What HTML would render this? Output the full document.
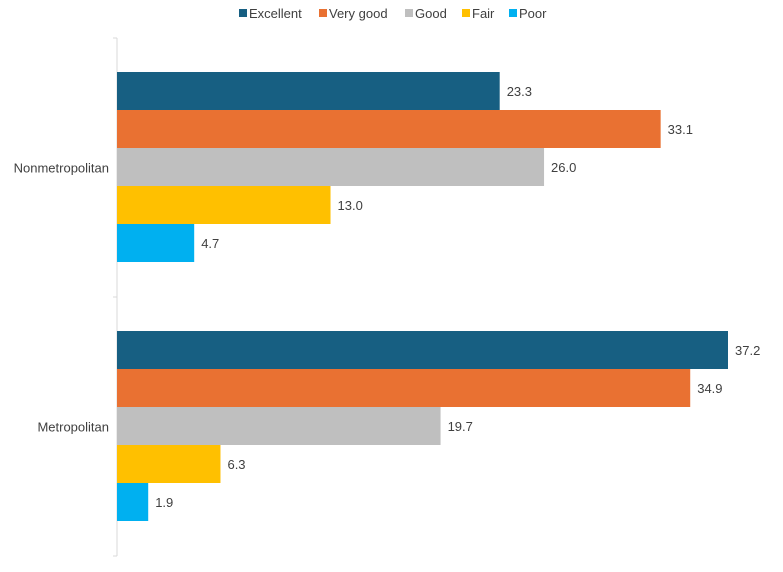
<!DOCTYPE html>
<html><head><meta charset="utf-8"><style>
body{margin:0;background:#fff;font-family:"Liberation Sans",Arial,sans-serif;}
svg text{font-family:"Liberation Sans",Arial,sans-serif;fill:#404040;font-size:13px;}
</style></head><body>
<svg id="chart" width="783" height="567"></svg>
<script>
const categories = ["Nonmetropolitan", "Metropolitan"];
const seriesNames = ["Excellent", "Very good", "Good", "Fair", "Poor"];
const seriesColors = ["#175f82", "#e97132", "#bfbfbf", "#ffc000", "#00b0f0"];
const nonmetroValues = [23.3, 33.1, 26.0, 13.0, 4.7];
const metroValues = [37.2, 34.9, 19.7, 6.3, 1.9];
const values = [nonmetroValues, metroValues];

const svg = document.getElementById('chart');
const NS = 'http://www.w3.org/2000/svg';
const x0 = 117, pxPerUnit = 611 / 37.2;
const chartTop = 38, groupH = 259, barH = 38, groupPad = 34;
const xScale = v => x0 + v * pxPerUnit;
function mk(tag, attrs){const e=document.createElementNS(NS,tag);for(const k in attrs)e.setAttribute(k,attrs[k]);svg.appendChild(e);return e;}

// legend
const legendX = [239, 319, 405, 462, 509];
seriesNames.forEach((n,i)=>{
  const r = mk('rect',{x:legendX[i],y:9,width:8,height:8,fill:seriesColors[i]});
  
  
  const t = mk('text',{x:legendX[i]+10,y:18});
  t.textContent = n;
  
  
});

// axis
const ax = mk('line',{x1:x0,y1:chartTop,x2:x0,y2:chartTop+2*groupH,stroke:'#d9d9d9','stroke-width':1});


for(let k=0;k<=2;k++){
  const tk = mk('line',{x1:x0-4,y1:chartTop+k*groupH,x2:x0,y2:chartTop+k*groupH,stroke:'#d9d9d9'});
  
  
}

categories.forEach((c,g)=>{
  const gy = chartTop + g*groupH;
  const lbl = mk('text',{x:x0-8,y:gy+groupH/2+5,'text-anchor':'end'});
  lbl.textContent = c;
  
  
  values[g].forEach((v,i)=>{
    const y = gy + groupPad + i*barH;
    const b = mk('rect',{x:x0,y:y,width:xScale(v)-x0,height:barH,fill:seriesColors[i]});
    
    
    const t = mk('text',{x:xScale(v)+7,y:y+barH/2+5});
    t.textContent = v.toFixed(1);
    
    
  });
});
</script>
</body></html>
